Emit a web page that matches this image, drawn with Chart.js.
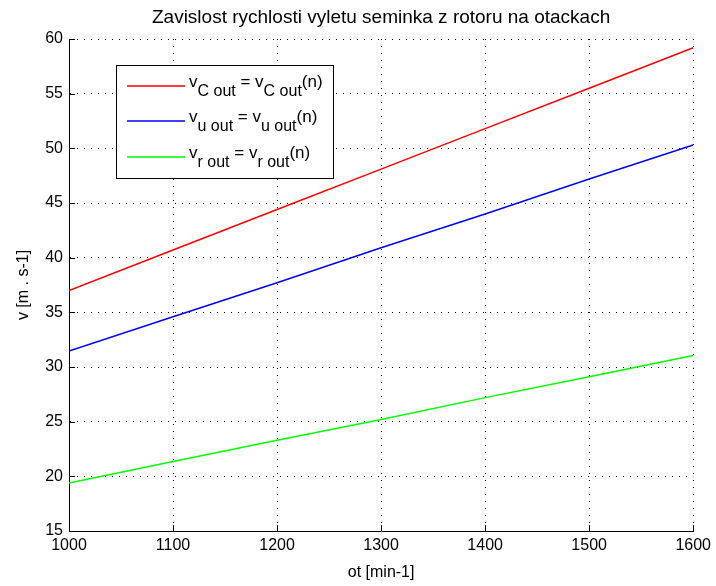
<!DOCTYPE html>
<html>
<head>
<meta charset="utf-8">
<script src="https://cdn.jsdelivr.net/npm/chart.js@4"></script>
<style>
  html, body { margin: 0; padding: 0; background: #fff; }
  #wrap { position: relative; width: 716px; height: 586px; }
</style>
</head>
<body>
<div id="wrap"><canvas id="chart" width="716" height="586"></canvas></div>
<script>
// ===== DATA =====
const rpm = [1000, 1100, 1200, 1300, 1400, 1500, 1600];
const vC = [37.0, 40.7, 44.4, 48.1, 51.8, 55.5, 59.2];
const vU = [31.45, 34.6, 37.7, 40.9, 44.0, 47.2, 50.3];
const vR = [19.4, 21.35, 23.3, 25.2, 27.2, 29.1, 31.05];

const xTicks = [1000, 1100, 1200, 1300, 1400, 1500, 1600];
const yTicks = [15, 20, 25, 30, 35, 40, 45, 50, 55, 60];

const legendSubs = ["C out", "u out", "r out"];
const seriesColors = ["#ff0000", "#0000ff", "#00ff00"];

const FONT = "'Liberation Sans', Arial, sans-serif";

function toPoints(ys) {
  return rpm.map((x, i) => ({ x: x, y: ys[i] }));
}

// inward tick marks, MATLAB style
const innerTicks = {
  id: "innerTicks",
  afterDraw(chart) {
    const { ctx, chartArea, scales } = chart;
    ctx.save();
    ctx.strokeStyle = "#000";
    ctx.lineWidth = 1;
    ctx.beginPath();
    xTicks.forEach(v => {
      const x = Math.round(scales.x.getPixelForValue(v)) + 0.5;
      ctx.moveTo(x, chartArea.bottom);
      ctx.lineTo(x, chartArea.bottom - 6);
    });
    yTicks.forEach(v => {
      const y = Math.round(scales.y.getPixelForValue(v)) + 0.5;
      ctx.moveTo(chartArea.left, y);
      ctx.lineTo(chartArea.left + 6, y);
    });
    ctx.stroke();
    ctx.restore();
  }
};

// legend box with subscripts
const subLegend = {
  id: "subLegend",
  afterDraw(chart) {
    const ctx = chart.ctx;
    const box = { x: 116.5, y: 65.5, w: 217, h: 113 };
    ctx.save();
    ctx.fillStyle = "#fff";
    ctx.fillRect(box.x, box.y, box.w, box.h);
    ctx.strokeStyle = "#000";
    ctx.lineWidth = 1;
    ctx.strokeRect(box.x, box.y, box.w, box.h);

    const rowsY = [86, 121, 157];
    const mainFont = "17px " + FONT;
    const subFont = "16px " + FONT;
    ctx.textBaseline = "alphabetic";
    ctx.textAlign = "left";

    chart.data.datasets.forEach((ds, i) => {
      const y = rowsY[i];
      ctx.strokeStyle = ds.borderColor;
      ctx.lineWidth = 1.5;
      ctx.beginPath();
      ctx.moveTo(127, y);
      ctx.lineTo(185, y);
      ctx.stroke();

      const parts = [
        ["v", 0], [legendSubs[i], 1], [" = v", 0], [legendSubs[i], 1], ["(n)", 0]
      ];
      let x = 189;
      ctx.fillStyle = "#000";
      parts.forEach(([txt, isSub]) => {
        ctx.font = isSub ? subFont : mainFont;
        ctx.fillText(txt, x, isSub ? y + 10 : y + 1);
        x += ctx.measureText(txt).width;
      });
    });
    ctx.restore();
  }
};

const gridCommon = {
  color: "#000",
  lineWidth: 1,
  drawTicks: false
};

new Chart(document.getElementById("chart"), {
  type: "line",
  data: {
    datasets: [
      { label: "vC", data: toPoints(vC), borderColor: seriesColors[0] },
      { label: "vu", data: toPoints(vU), borderColor: seriesColors[1] },
      { label: "vr", data: toPoints(vR), borderColor: seriesColors[2] }
    ].map(d => Object.assign(d, { borderWidth: 1.5, pointRadius: 0, fill: false, tension: 0 }))
  },
  options: {
    responsive: false,
    animation: false,
    layout: { padding: { left: 0, right: 22, top: 0, bottom: 0 } },
    plugins: {
      legend: { display: false },
      tooltip: { enabled: false },
      title: {
        display: true,
        fullSize: false,
        text: "Zavislost rychlosti vyletu seminka z rotoru na otackach",
        color: "#000",
        font: { family: FONT, size: 19, weight: "normal", lineHeight: 1.2 },
        padding: { top: 6, bottom: 10.2 }
      }
    },
    scales: {
      x: {
        type: "linear",
        min: 1000,
        max: 1600,
        afterBuildTicks(scale) { scale.ticks = xTicks.map(v => ({ value: v })); },
        afterFit(scale) { scale.height = 55; },
        grid: gridCommon,
        border: { display: true, color: "#000", width: 1, dash: [1, 6] },
        ticks: {
          color: "#000", padding: 5, maxRotation: 0,
          font: { family: FONT, size: 16 },
          callback: v => String(v)
        },
        title: {
          display: true,
          text: "ot [min-1]",
          color: "#000",
          font: { family: FONT, size: 16 },
          padding: { top: 0, bottom: 4 }
        }
      },
      y: {
        type: "linear",
        min: 15,
        max: 60,
        afterBuildTicks(scale) { scale.ticks = yTicks.map(v => ({ value: v })); },
        afterFit(scale) { scale.width = 69; },
        grid: gridCommon,
        border: { display: true, color: "#000", width: 1, dash: [1, 6] },
        ticks: {
          color: "#000", padding: 6,
          font: { family: FONT, size: 16 },
          callback: v => String(v)
        },
        title: {
          display: true,
          text: "v [m . s-1]",
          color: "#000",
          font: { family: FONT, size: 16 },
          padding: { top: 14, bottom: 0 }
        }
      }
    }
  },
  plugins: [innerTicks, subLegend]
});
</script>
</body>
</html>
